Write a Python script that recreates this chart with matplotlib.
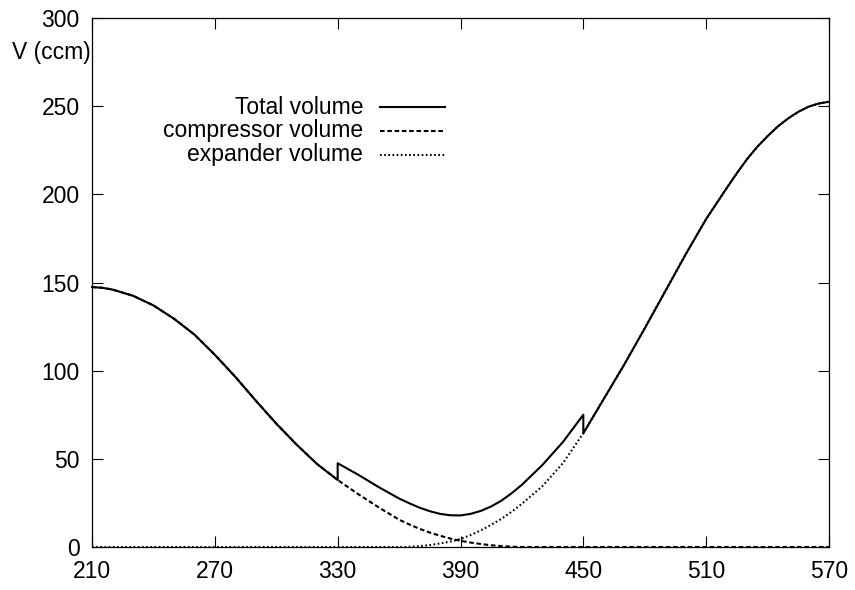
import matplotlib

matplotlib.use("Agg")
import matplotlib.pyplot as plt  # noqa: E402
from matplotlib.lines import Line2D  # noqa: E402

plt.rcParams["font.family"] = ["Liberation Sans", "DejaVu Sans"]

# crank angle (deg) for compressor / expander curves
theta = [210, 215, 220, 230, 240, 250, 260, 270, 280, 290, 300, 310, 320, 330,
         340, 350, 360, 365, 370, 375, 380, 385, 390, 395, 400, 405, 410, 415, 420,
         430, 440, 450, 460, 470, 480, 490, 500, 510, 520, 525, 530, 535, 540,
         545, 550, 555, 560, 565, 570]
comp_vol = [147.4, 147, 146, 142.5, 137, 129.5, 120.5, 109, 96.5, 83, 70, 58, 47, 38,
            30, 22.5, 15.5, 12.8, 10.3, 8.2, 6.4, 4.8, 3.5, 2.5, 1.7, 1.0, 0.5, 0.15, 0,
            0, 0, 0, 0, 0, 0, 0, 0, 0, 0, 0, 0, 0, 0,
            0, 0, 0, 0, 0, 0]
exp_vol = [0, 0, 0, 0, 0, 0, 0, 0, 0, 0, 0, 0, 0, 0,
           0, 0, 0, 0.1, 0.5, 1.1, 2, 3.1, 4.5, 6.8, 9.5, 12.6, 16, 20, 24.5,
           34.5, 47.5, 64.5, 84, 103.5, 124, 145, 166, 186, 203.5, 212, 220, 227, 233,
           238.5, 243, 246.8, 249.7, 251.5, 252.5]

# total volume has jumps at 330 and 450 (valves open/close)
theta_tot = [210, 215, 220, 230, 240, 250, 260, 270, 280, 290, 300, 310, 320, 330,
             330, 340, 350, 360, 365, 370, 375, 380, 385, 390, 395, 400, 405, 410,
             415, 420, 430, 440, 450,
             450, 460, 470, 480, 490, 500, 510, 520, 525, 530, 535, 540,
             545, 550, 555, 560, 565, 570]
total_vol = [147.4, 147, 146, 142.5, 137, 129.5, 120.5, 109, 96.5, 83, 70, 58, 47, 38,
             47.5, 41, 34, 27.5, 24.8, 22.3, 20.3, 18.8, 18, 17.9, 18.8, 20.5, 23, 26.3,
             30.5, 35.3, 46.5, 59.5, 75,
             64.5, 84, 103.5, 124, 145, 166, 186, 203.5, 212, 220, 227, 233,
             238.5, 243, 246.8, 249.7, 251.5, 252.5]

X_TICKS = [210, 270, 330, 390, 450, 510, 570]
Y_TICKS = [0, 50, 100, 150, 200, 250, 300]

FS = 16.5
DASH = (0, (2.2, 1.3))
DOT = (0, (0.8, 1.2))

fig = plt.figure(figsize=(8.55, 5.9), dpi=100)
ax = fig.add_axes([92 / 855, 1 - 547 / 590, (829 - 92) / 855, (547 - 18) / 590])

ax.plot(theta_tot, total_vol, color="black", lw=1.5, clip_on=False)
ax.plot(theta, comp_vol, color="black", lw=1.5, ls=DASH, clip_on=False)
ax.plot(theta, exp_vol, color="black", lw=1.5, ls=DOT, clip_on=False)

ax.set_xlim(210, 570)
ax.set_ylim(0, 300)
ax.set_xticks(X_TICKS)
ax.set_yticks(Y_TICKS)
ax.tick_params(direction="in", length=8, width=0.8, top=True, right=True,
               labelsize=FS, pad=9, colors="black")
for s in ax.spines.values():
    s.set_linewidth(0.9)

fig.text(91 / 855, 1 - 52 / 590, "V (ccm)", ha="right", va="center", fontsize=FS)

# gnuplot-style key: right-aligned text, sample line to the right
labels = ["Total volume", "compressor volume", "expander volume"]
styles = ["-", DASH, DOT]
for i, (lab, st) in enumerate(zip(labels, styles)):
    yk = 1 - (107 + 24 * i) / 590
    fig.text(363 / 855, yk, lab, ha="right", va="center", fontsize=FS)
    fig.add_artist(Line2D([380 / 855, 445 / 855], [yk, yk], transform=fig.transFigure,
                          color="black", lw=1.5, ls=st))

fig.savefig("out.png", dpi=100)
